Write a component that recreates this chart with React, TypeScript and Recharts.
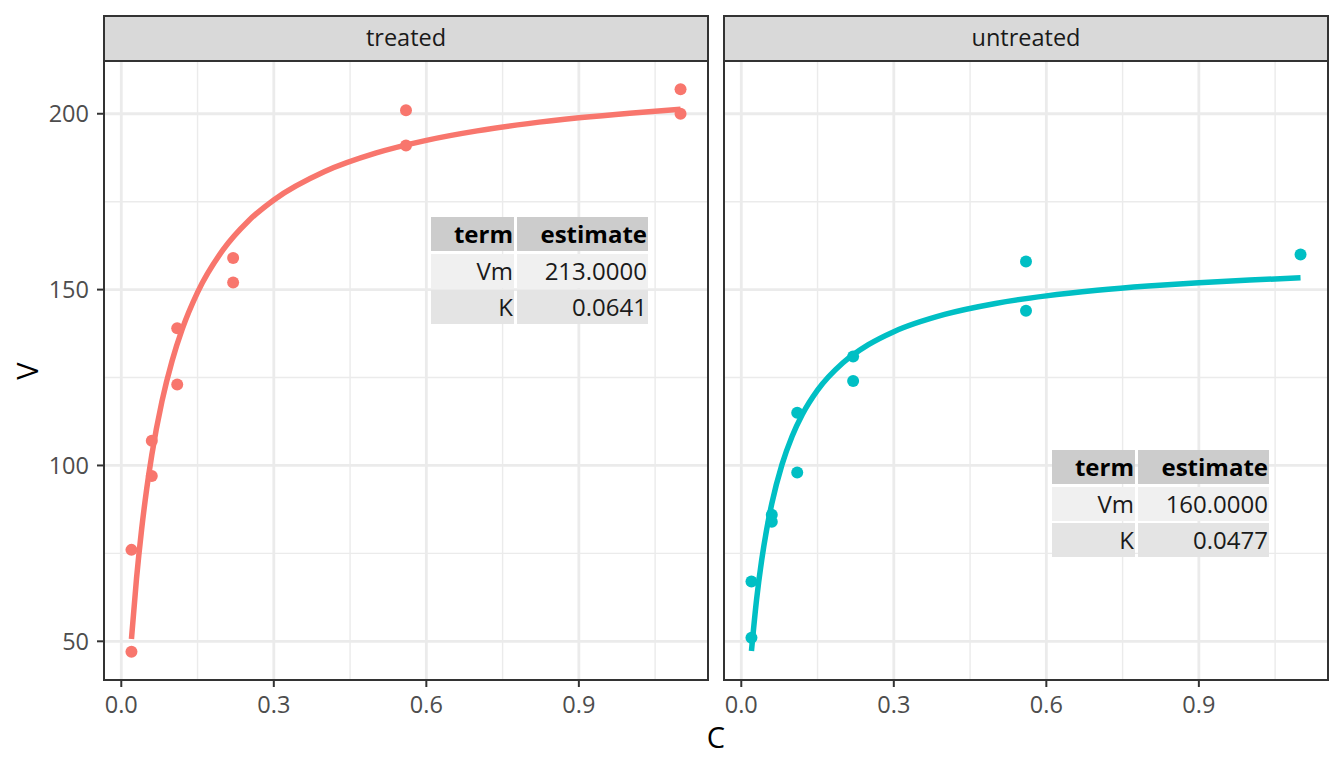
import React from "react";
import {
  ComposedChart,
  Line,
  Scatter,
  XAxis,
  YAxis,
  ReferenceLine,
} from "recharts";

// Observed data (Puromycin)
const treatedC = [0.02, 0.02, 0.06, 0.06, 0.11, 0.11, 0.22, 0.22, 0.56, 0.56, 1.1, 1.1];
const treatedV = [76, 47, 97, 107, 123, 139, 159, 152, 191, 201, 207, 200];
const untreatedC = [0.02, 0.02, 0.06, 0.06, 0.11, 0.11, 0.22, 0.22, 0.56, 0.56, 1.1];
const untreatedV = [67, 51, 84, 86, 98, 115, 131, 124, 144, 158, 160];

// Fitted curve values
const curveC = [0.02, 0.03, 0.04, 0.05, 0.06, 0.08, 0.1, 0.12, 0.15, 0.2, 0.25, 0.3, 0.4, 0.5, 0.6, 0.7, 0.8, 0.9, 1.0, 1.1];
const treatedFit = [50.65, 67.91, 81.84, 93.34, 102.98, 118.25, 129.8, 138.84, 149.23, 161.3, 169.53, 175.5, 183.58, 188.8, 192.44, 195.13, 197.2, 198.84, 200.17, 201.27];
const untreatedFit = [47.27, 61.78, 72.98, 81.88, 89.14, 100.23, 108.33, 114.49, 121.4, 129.19, 134.36, 138.05, 142.95, 146.07, 148.22, 149.79, 151.0, 151.95, 152.72, 153.35];

// Ticks / grid
const xMajor = [0, 0.3, 0.6, 0.9];
const xMinor = [0.15, 0.45, 0.75, 1.05];
const yMajor = [50, 100, 150, 200];
const yMinor = [75, 125, 175];
const xDomain: [number, number] = [-0.034, 1.154];
const yDomain: [number, number] = [39, 215];

// Table annotations
const treatedTable = [
  ["term", "estimate"],
  ["Vm", "213.0000"],
  ["K", "0.0641"],
];
const untreatedTable = [
  ["term", "estimate"],
  ["Vm", "160.0000"],
  ["K", "0.0477"],
];

const panels = ["treated", "untreated"];

const FONT = "'Open Sans', 'Noto Sans', sans-serif";
const TICK_STYLE = { fill: "#4d4d4d", fontSize: 23.5, fontFamily: FONT };

const toPts = (cs: number[], vs: number[]) => cs.map((c, i) => ({ c, v: vs[i] }));

function Panel({
  left,
  width,
  margin,
  showY,
  pts,
  fit,
  color,
}: {
  left: number;
  width: number;
  margin: { top: number; right: number; bottom: number; left: number };
  showY: boolean;
  pts: { c: number; v: number }[];
  fit: { c: number; v: number }[];
  color: string;
}) {
  return (
    <div style={{ position: "absolute", left, top: 0 }}>
      <ComposedChart width={width} height={768} margin={margin}>
        <XAxis
          type="number"
          dataKey="c"
          domain={xDomain}
          ticks={xMajor}
          tickFormatter={(v: number) => v.toFixed(1)}
          allowDataOverflow
          height={88}
          axisLine={false}
          tickLine={{ stroke: "#333333", strokeWidth: 2 }}
          tickSize={7}
          tickMargin={9}
          tick={TICK_STYLE}
          interval={0}
        />
        <YAxis
          type="number"
          dataKey="v"
          domain={yDomain}
          ticks={yMajor}
          allowDataOverflow
          width={104}
          hide={!showY}
          axisLine={false}
          tickLine={{ stroke: "#333333", strokeWidth: 2 }}
          tickSize={7}
          tickMargin={8}
          tick={TICK_STYLE}
          interval={0}
        />
        {xMinor.map((x) => (
          <ReferenceLine key={"xm" + x} x={x} stroke="#ebebeb" strokeWidth={1.4} />
        ))}
        {yMinor.map((y) => (
          <ReferenceLine key={"ym" + y} y={y} stroke="#ebebeb" strokeWidth={1.4} />
        ))}
        {xMajor.map((x) => (
          <ReferenceLine key={"xM" + x} x={x} stroke="#ebebeb" strokeWidth={2.8} />
        ))}
        {yMajor.map((y) => (
          <ReferenceLine key={"yM" + y} y={y} stroke="#ebebeb" strokeWidth={2.8} />
        ))}
        <Scatter
          data={pts}
          dataKey="v"
          fill={color}
          isAnimationActive={false}
          shape={(p: any) => <circle cx={p.cx} cy={p.cy} r={6} fill={color} />}
        />
        <Line
          data={fit}
          dataKey="v"
          type="monotone"
          stroke={color}
          strokeWidth={5.5}
          dot={false}
          activeDot={false}
          isAnimationActive={false}
        />
      </ComposedChart>
    </div>
  );
}

function Table({ left, top, rows }: { left: number; top: number; rows: string[][] }) {
  const colX = [0, 86];
  const colW = [83, 131];
  const rowY = [0, 37, 73];
  const rowH = 34;
  const bg = ["#cccccc", "#f0f0f0", "#e4e4e4"];
  return (
    <>
      {rows.map((r, ri) =>
        r.map((txt, ci) => (
          <div
            key={ri + "-" + ci}
            style={{
              position: "absolute",
              left: left + colX[ci],
              top: top + rowY[ri],
              width: colW[ci],
              height: rowH,
              background: bg[ri],
              textAlign: "right",
              lineHeight: rowH + "px",
              fontSize: 24,
              fontWeight: ri === 0 ? 700 : 400,
              color: ri === 0 ? "#000000" : "#1a1a1a",
              fontFamily: FONT,
              whiteSpace: "nowrap",
              boxSizing: "border-box",
              paddingRight: 1,
            }}
          >
            {txt}
          </div>
        ))
      )}
    </>
  );
}

export default function App() {
  const panelBoxes = [
    { x: 103, w: 606 },
    { x: 723, w: 606 },
  ];
  return (
    <div
      style={{
        position: "absolute",
        left: 0,
        top: 0,
        width: 1344,
        height: 768,
        background: "#ffffff",
        fontFamily: FONT,
        overflow: "hidden",
      }}
    >
      <Panel
        left={0}
        width={716}
        margin={{ top: 61, right: 8, bottom: 0, left: 0 }}
        showY={true}
        pts={toPts(treatedC, treatedV)}
        fit={toPts(curveC, treatedFit)}
        color="#F8766D"
      />
      <Panel
        left={716}
        width={628}
        margin={{ top: 61, right: 16, bottom: 0, left: 8 }}
        showY={false}
        pts={toPts(untreatedC, untreatedV)}
        fit={toPts(curveC, untreatedFit)}
        color="#00BFC4"
      />

      {panelBoxes.map((b, i) => (
        <React.Fragment key={i}>
          <div
            style={{
              position: "absolute",
              left: b.x,
              top: 15,
              width: b.w,
              height: 47,
              background: "#d9d9d9",
              border: "2px solid #333333",
              boxSizing: "border-box",
              textAlign: "center",
              lineHeight: "40px",
              fontSize: 23.5,
              color: "#1a1a1a",
            }}
          >
            {panels[i]}
          </div>
          <div
            style={{
              position: "absolute",
              left: b.x,
              top: 60,
              width: b.w,
              height: 621,
              border: "2px solid #333333",
              boxSizing: "border-box",
              pointerEvents: "none",
            }}
          />
        </React.Fragment>
      ))}

      <Table left={431} top={217} rows={treatedTable} />
      <Table left={1052} top={450} rows={untreatedTable} />

      <div
        style={{
          position: "absolute",
          left: 26,
          top: 371,
          transform: "translate(-50%, -50%) rotate(-90deg)",
          fontSize: 29,
          color: "#000000",
          lineHeight: 1,
        }}
      >
        V
      </div>
      <div
        style={{
          position: "absolute",
          left: 716,
          top: 736,
          transform: "translate(-50%, -50%)",
          fontSize: 29,
          color: "#000000",
          lineHeight: 1,
        }}
      >
        C
      </div>
    </div>
  );
}
